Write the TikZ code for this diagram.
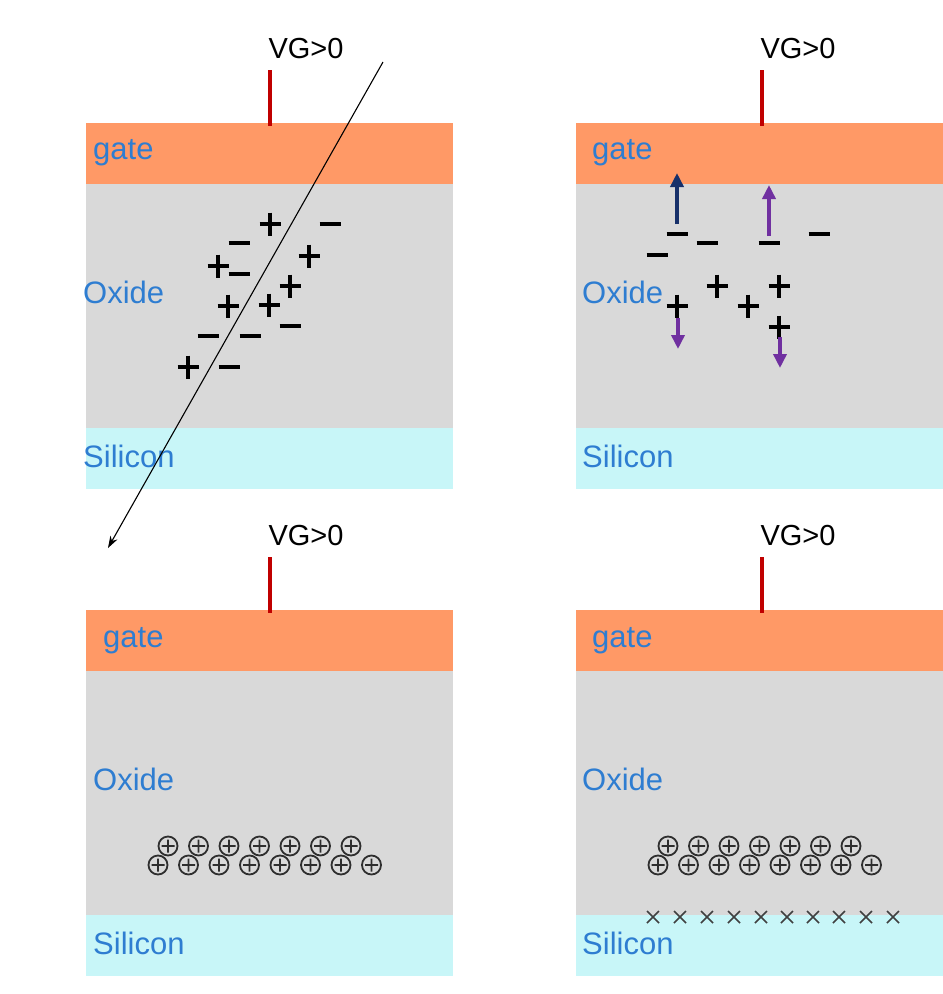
\documentclass[tikz,border=0pt]{standalone}
\usepackage{fontspec}
\setmainfont{Liberation Sans}
\usetikzlibrary{arrows.meta}
\definecolor{gatecol}{HTML}{FF9966}
\definecolor{oxidecol}{HTML}{D9D9D9}
\definecolor{sicol}{HTML}{C8F6F8}
\definecolor{labelcol}{HTML}{2E7DD1}
\definecolor{leadcol}{HTML}{C00000}
\definecolor{navycol}{HTML}{17306A}
\definecolor{purplecol}{HTML}{7030A0}
\tikzset{
  layerlabel/.style={anchor=base west,inner sep=0pt,text=labelcol,font=\fontsize{31}{34}\selectfont},
  vglabel/.style={anchor=base,inner sep=0pt,font=\fontsize{29}{32}\selectfont},
  lead/.style={draw=leadcol,line width=4.6pt},
  pluscharge/.pic={\draw[line width=3.2pt] (-10.5,0)--(10.5,0) (0,-11.5)--(0,11.5);},
  minuscharge/.pic={\draw[line width=3.2pt] (-10.5,0)--(10.5,0);},
  fixedplus/.pic={\draw[line width=1.8pt,black!82] (0,0) circle (9.5) (-6.5,0)--(6.5,0) (0,-6.5)--(0,6.5);},
  trapmark/.pic={\draw[line width=1.7pt,black!75] (-6,-6)--(6,6) (-6,6)--(6,-6);},
  drift/.style={line width=4pt,-{Triangle[length=14pt,width=13pt]}},
}
% one gate / oxide / silicon stack: #1 left x, #2 right x, #3 top y, #4 lead x, #5 name prefix
\newcommand\mosstack[5]{
  \fill[gatecol] (#1,#3) rectangle (#2,#3+61);
  \fill[oxidecol] (#1,#3+61) rectangle (#2,#3+305);
  \fill[sicol] (#1,#3+305) rectangle (#2,#3+366);
  \coordinate (#5lt) at (#4,#3-53);
  \coordinate (#5lb) at (#4,#3+3);
  \draw[lead] (#5lt) -- (#5lb);
  \node[vglabel] (#5vg) at (#4+36,#3-65) {VG>0};
}
\begin{document}
\begin{tikzpicture}[x=1pt,y=-1pt]
\useasboundingbox[fill=white] (0,0) rectangle (943,994);

% four stacks
\mosstack{86}{453}{123}{270}{a}
\mosstack{576}{943}{123}{762}{b}
\mosstack{86}{453}{610}{270}{c}
\mosstack{576}{943}{610}{762}{d}

% layer names
\node[layerlabel] (agate) at (93,159) {gate};
\node[layerlabel] (aox) at (83,303) {Oxide};
\node[layerlabel] (asi) at (83,467) {Silicon};
\node[layerlabel] (bgate) at (592,159) {gate};
\node[layerlabel] (box) at (582,303) {Oxide};
\node[layerlabel] (bsi) at (582,467) {Silicon};
\node[layerlabel] (cgate) at (103,647) {gate};
\node[layerlabel] (cox) at (93,790) {Oxide};
\node[layerlabel] (csi) at (93,954) {Silicon};
\node[layerlabel] (dgate) at (592,647) {gate};
\node[layerlabel] (dox) at (582,790) {Oxide};
\node[layerlabel] (dsi) at (582,954) {Silicon};

% pairs generated along the particle track
\foreach \x/\y in {270/224,309/256,218/266,290/286,228/306,269/305,188/367}
  \pic at (\x,\y) {pluscharge};
\foreach \x/\y in {330/224,239/243,239/274,290/326,208/336,250/336,229/367}
  \pic at (\x,\y) {minuscharge};
\coordinate (trackin) at (383,62);
\coordinate (trackout) at (108,548);
\draw[line width=1.1pt,-{Stealth[length=12pt,width=8pt]}] (trackin) -- (trackout);

% charges separating under the field
\foreach \x/\y in {677/234,657/255,707/243,769/243,819/234}
  \pic at (\x,\y) {minuscharge};
\foreach \x/\y in {717/286,779/286,677/306,748/306,779/327}
  \pic at (\x,\y) {pluscharge};
\coordinate (e1s) at (677,224);
\coordinate (e1t) at (677,173);
\coordinate (e2s) at (769,236);
\coordinate (e2t) at (769,185);
\coordinate (h1s) at (678,318);
\coordinate (h1t) at (678,349);
\coordinate (h2s) at (780,337);
\coordinate (h2t) at (780,368);
\draw[drift,navycol] (e1s) -- (e1t);
\draw[drift,purplecol] (e2s) -- (e2t);
\draw[drift,purplecol] (h1s) -- (h1t);
\draw[drift,purplecol] (h2s) -- (h2t);

% trapped holes near the interface
\foreach \dx in {0,500} {
  \foreach \x in {168,198.5,229,259.5,290,320.5,351}
    \pic at (\x+\dx,846) {fixedplus};
  \foreach \x in {158,188.5,219,249.5,280,310.5,341,371.5}
    \pic at (\x+\dx,865) {fixedplus};
}
% interface traps
\foreach \x in {653,680,707,734,761,787,813,839,866,893}
  \pic at (\x,917) {trapmark};
\end{tikzpicture}
\end{document}
